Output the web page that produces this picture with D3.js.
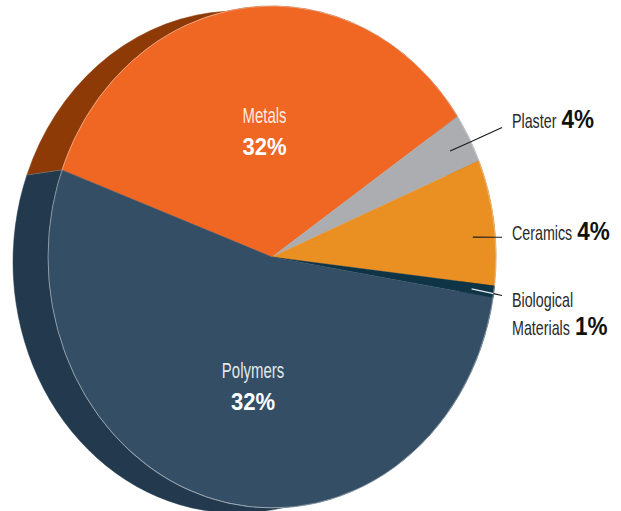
<!DOCTYPE html>
<html>
<head>
<meta charset="utf-8">
<style>
  body { margin: 0; background: #fff; }
  svg { display: block; font-family: "Liberation Sans", Arial, sans-serif; }
</style>
</head>
<body>
<div id="chart"></div>
<script src="https://cdn.jsdelivr.net/npm/d3@7/dist/d3.min.js"></script>
<script>
// data
const categories = ["Metals", "Plaster", "Ceramics", "Biological Materials", "Polymers"];
const shares = [34.9, 3.2, 8.1, 0.75, 53.05];          // slice size as drawn (% of the disc)
const pctLabels = ["32%", "4%", "4%", "1%", "32%"];     // printed labels
const faceColors = ["#f06623", "#abadb0", "#ea9022", "#0e3445", "#344f65"];
const sideColors = ["#8e3a06", "#6f7173", "#9a5c12", "#08222e", "#233a4e"];

const width = 621, height = 511;
const cx = 272, cy = 257, rx = 224, ry = 251;   // front face (an upright ellipse)
const depth = [-35, 5];                          // how far the back face sits

// label layout (positions only)
const inside = {
  "Metals":   {x: 264.5, y: 122.5},
  "Polymers": {x: 253,   y: 377.5}
};
const outside = {
  "Plaster":              {y: 127.5, lines: ["Plaster"], endDy: 0, at: 0.53},
  "Ceramics":             {y: 240,   lines: ["Ceramics"], endDy: -2.7, at: 0.6},
  "Biological Materials": {y: 306.5, lines: ["Biological", "Materials"], endDy: -11, at: 0.55}
};
const labelX = 512;

const svg = d3.select("#chart").append("svg")
    .attr("width", width)
    .attr("height", height);

const start = -69.7 * Math.PI / 180;
const pie = d3.pie()
    .sort(null)
    .value(d => d.value)
    .startAngle(start)
    .endAngle(start + 2 * Math.PI);

const data = categories.map((c, i) => ({
  name: c, value: shares[i], pct: pctLabels[i], face: faceColors[i], side: sideColors[i]
}));
const arcs = pie(data);

// everything on the disc is drawn on a unit circle, then stretched to the ellipse
const disc = svg.append("g")
    .attr("transform", `translate(${cx},${cy}) scale(${rx},${ry})`);

const ox = depth[0] / rx, oy = depth[1] / ry;

function sidePath(d) {
  const p = d3.path();
  const a0 = d.startAngle, a1 = d.endAngle;
  p.moveTo(Math.sin(a0), -Math.cos(a0));
  p.arc(0, 0, 1, a0 - Math.PI / 2, a1 - Math.PI / 2, false);
  p.lineTo(ox + Math.sin(a1), oy - Math.cos(a1));
  p.arc(ox, oy, 1, a1 - Math.PI / 2, a0 - Math.PI / 2, true);
  p.closePath();
  return p.toString();
}

// side of the disc
disc.selectAll("path.side")
  .data(arcs)
  .join("path")
    .attr("class", "side")
    .attr("d", sidePath)
    .attr("fill", d => d.data.side)
    .attr("stroke", d => d.data.side)
    .attr("stroke-width", 0.5)
    .attr("vector-effect", "non-scaling-stroke");

// faint seam where metals and polymers meet on the side
disc.append("line")
    .attr("x1", Math.sin(start))
    .attr("y1", -Math.cos(start))
    .attr("x2", ox + Math.sin(start))
    .attr("y2", oy - Math.cos(start))
    .attr("stroke", "#d9a07a")
    .attr("stroke-opacity", 0.6)
    .attr("stroke-width", 0.6)
    .attr("vector-effect", "non-scaling-stroke");

const arc = d3.arc().innerRadius(0).outerRadius(1);

disc.selectAll("path.face")
  .data(arcs)
  .join("path")
    .attr("class", "face")
    .attr("d", arc)
    .attr("fill", d => d.data.face)
    .attr("stroke", d => d.data.face)
    .attr("stroke-width", 0.4)
    .attr("vector-effect", "non-scaling-stroke");

// thin light rim on the front face
disc.append("ellipse")
    .attr("rx", 1).attr("ry", 1)
    .attr("fill", "none")
    .attr("stroke", "#ffffff")
    .attr("stroke-opacity", 0.55)
    .attr("stroke-width", 0.7)
    .attr("vector-effect", "non-scaling-stroke");

// text squeezed horizontally to look like a condensed face; returns drawn width
function label(x, y, str, size, weight, k, anchor, fill, opacity) {
  const t = svg.append("text")
      .attr("transform", `translate(${x},${y}) scale(${k},1)`)
      .attr("text-anchor", anchor)
      .attr("font-size", size)
      .attr("font-weight", weight)
      .attr("fill", fill)
      .attr("fill-opacity", opacity)
      .text(str);
  return t.node().getComputedTextLength() * k;
}

// labels inside the big slices
arcs.filter(d => inside[d.data.name]).forEach(d => {
  const pos = inside[d.data.name];
  label(pos.x, pos.y, d.data.name, 22, "normal", 0.68, "middle", "#ffffff", 0.88);
  label(pos.x, pos.y + 32, d.data.pct, 24, "bold", 0.92, "middle", "#ffffff", 1);
});

// labels and leader lines for the small slices
arcs.filter(d => outside[d.data.name]).forEach(d => {
  const lay = outside[d.data.name];
  const a = d.startAngle + (d.endAngle - d.startAngle) * lay.at;
  const sx = cx + rx * 0.9 * Math.sin(a);
  const sy = cy - ry * 0.9 * Math.cos(a);
  const ex = labelX - 10, ey = lay.y + lay.endDy;

  // where the leader crosses the rim: inner part light on the dark slice
  let t = 0;
  for (let s = 0; s <= 1; s += 0.01) {
    const x = sx + (ex - sx) * s, y = sy + (ey - sy) * s;
    if (((x - cx) / rx) ** 2 + ((y - cy) / ry) ** 2 <= 1) t = s;
  }
  const mx = sx + (ex - sx) * t, my = sy + (ey - sy) * t;
  const dark = d.data.name === "Biological Materials";
  svg.append("line")
      .attr("x1", sx).attr("y1", sy).attr("x2", mx).attr("y2", my)
      .attr("stroke", dark ? "#e8ecef" : "#1a1a1a")
      .attr("stroke-width", 1.1);
  svg.append("line")
      .attr("x1", mx).attr("y1", my).attr("x2", ex).attr("y2", ey)
      .attr("stroke", "#1a1a1a")
      .attr("stroke-width", 1.1);

  lay.lines.forEach((ln, i) => {
    const y = lay.y + i * 28.5;
    const w = label(labelX, y, ln, 21, "normal", 0.68, "start", "#2a2a2a", 1);
    if (i === lay.lines.length - 1) {
      label(labelX + w + 5, y, d.data.pct, 25, "bold", 0.9, "start", "#111111", 1);
    }
  });
});
</script>
</body>
</html>
